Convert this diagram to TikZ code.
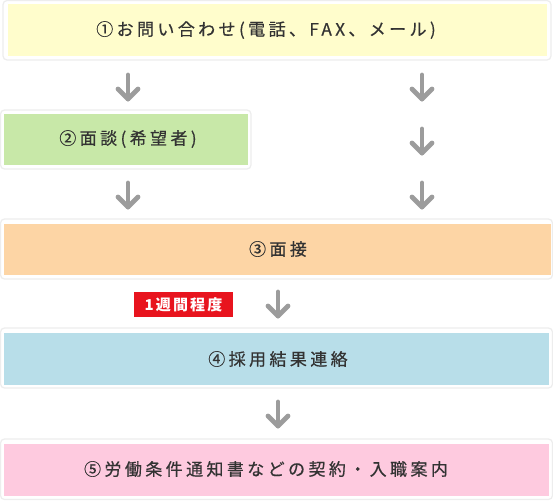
\documentclass[tikz,border=0pt]{standalone}
\usepackage{fontspec}
\newfontfamily\jp[LetterSpace=20,FakeBold=0.6]{Noto Sans CJK JP}
\newfontfamily\jptag[LetterSpace=14]{Noto Sans CJK JP}
\definecolor{yel}{HTML}{FFFDCC}
\definecolor{grn}{HTML}{C8E8A8}
\definecolor{org}{HTML}{FDD5A5}
\definecolor{blu}{HTML}{B8DEE9}
\definecolor{pnk}{HTML}{FECADF}
\definecolor{tagred}{HTML}{E8141E}
\definecolor{arr}{HTML}{9C9C9C}
\definecolor{txt}{HTML}{333333}
\tikzset{
  card/.style={fill=white, rounded corners=4pt, draw=black!7, line width=1.2pt},
  stepbox/.style={inner sep=0pt, font=\jp\fontsize{17}{17}\selectfont, text=txt},
  dn/.style={draw=arr, line width=4.8pt, line cap=round, line join=round},
  tag/.style={fill=tagred, text=white, font=\jptag\bfseries\fontsize{15}{15}\selectfont, inner xsep=5pt, minimum height=25pt, minimum width=99pt}
}
\newcommand{\downarrowat}[2]{%
  \draw[dn] (#1,#2) -- (#1,#2+24);
  \draw[dn] (#1-10,#2+14) -- (#1,#2+24) -- (#1+10,#2+14);
}
\begin{document}
\begin{tikzpicture}[x=1pt,y=-1pt]
\useasboundingbox (0,0) rectangle (553,500);
\fill[white] (0,0) rectangle (553,500);
% box 1
\draw[card] (3,0.5) rectangle (551,60);
\fill[yel] (8,4) rectangle (547,56);
\node[stepbox] (b1) at (266,30) {①お問い合わせ(電話、FAX、メール)};
% box 2
\draw[card] (0.5,110) rectangle (251,169);
\fill[grn] (4,114) rectangle (248,165);
\node[stepbox] (b2) at (128,139) {②面談(希望者)};
% box 3
\draw[card] (0.5,219) rectangle (552.5,279);
\fill[org] (4,224) rectangle (551,275);
\node[stepbox] (b3) at (278,249) {③面接};
% box 4
\draw[card] (0.5,328) rectangle (552.5,388);
\fill[blu] (4,333) rectangle (549,385);
\node[stepbox] (b4) at (278,359) {④採用結果連絡};
% box 5
\draw[card] (0.5,439) rectangle (552.5,499.5);
\fill[pnk] (4,444) rectangle (549,496);
\node[stepbox] (b5) at (266,469) {⑤労働条件通知書などの契約・入職案内};
% tag
\node[tag] (t) at (183.5,304.5) {1週間程度};
% arrows
\downarrowat{128}{75}
\downarrowat{422}{75}
\downarrowat{422}{129}
\downarrowat{128}{183}
\downarrowat{422}{183}
\downarrowat{278}{292}
\downarrowat{278}{402}
\end{tikzpicture}
\end{document}
